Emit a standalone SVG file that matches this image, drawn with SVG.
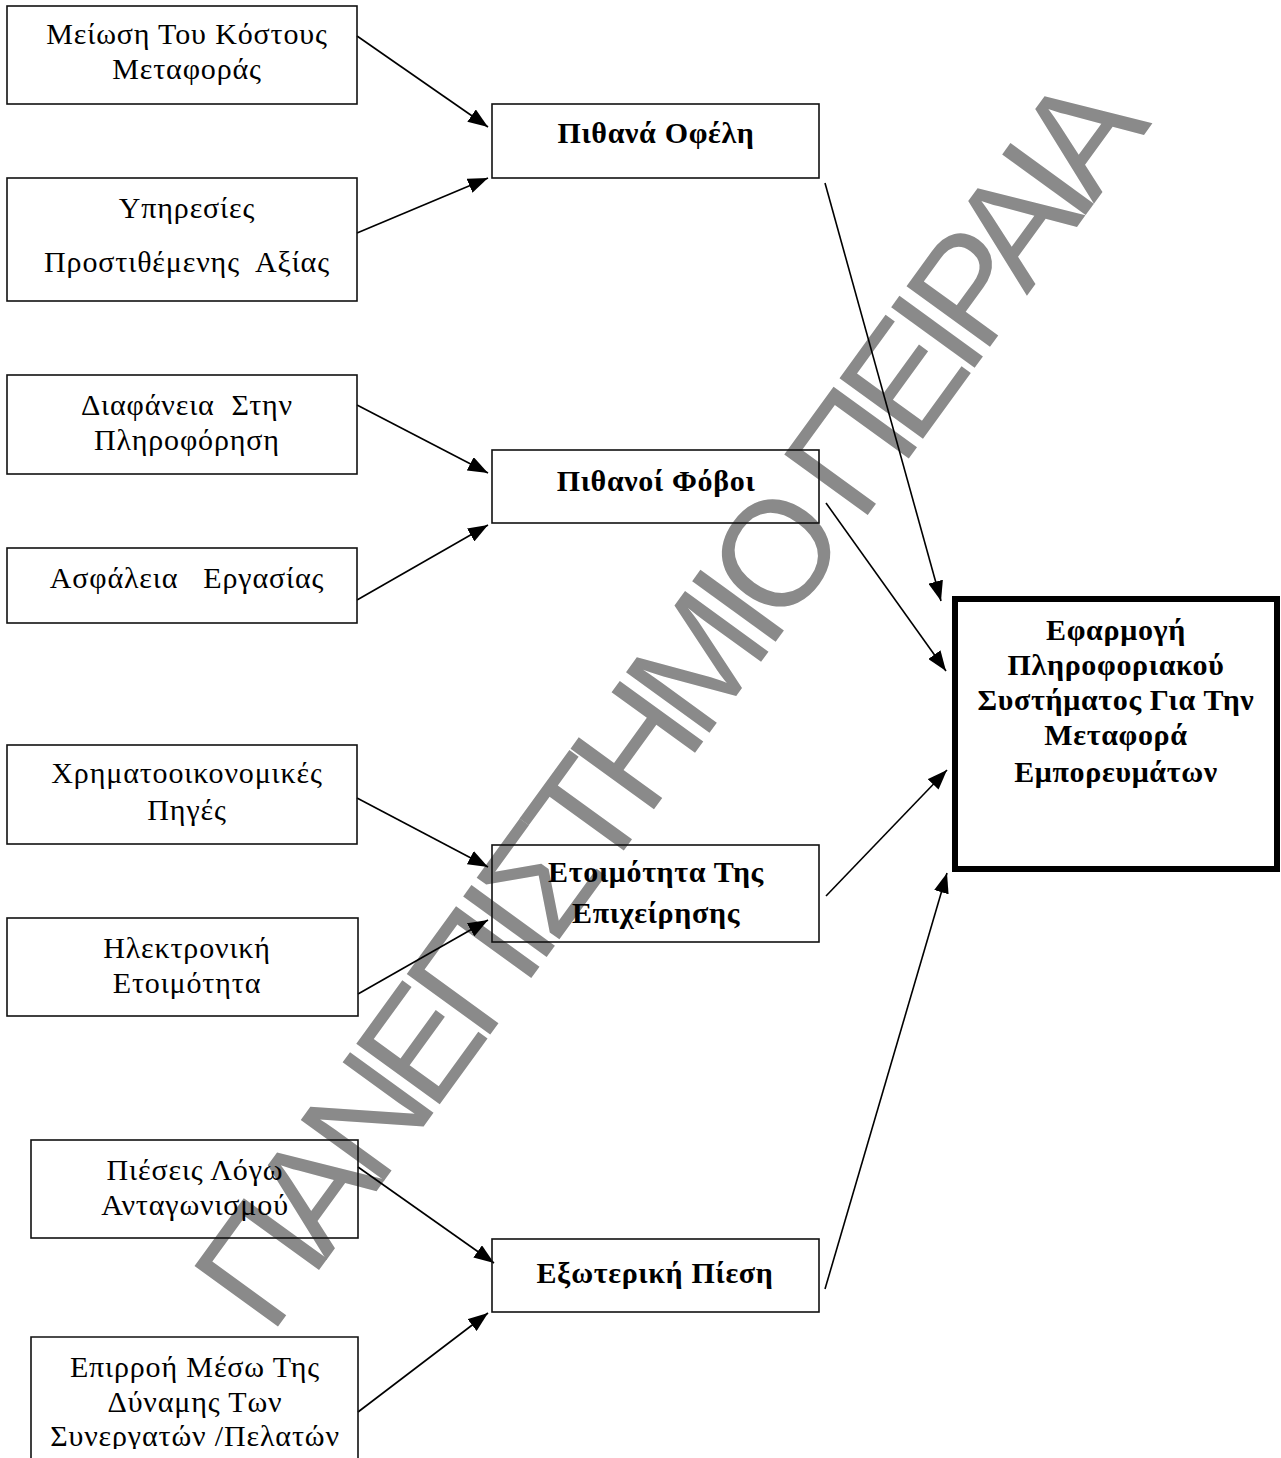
<svg xmlns="http://www.w3.org/2000/svg" width="1281" height="1458" viewBox="0 0 1281 1458">
  <style>
    .box { fill: none; stroke: #111; stroke-width: 1.6; }
    .main { fill: none; stroke: #000; stroke-width: 6; }
    .lbl { font-family: "Liberation Serif", "Times New Roman", serif; font-size: 30px; letter-spacing: 0.85px; fill: #000; text-anchor: middle; white-space: pre; }
    .hdr { font-family: "Liberation Serif", "Times New Roman", serif; font-size: 30px; letter-spacing: 0.65px; font-weight: bold; fill: #000; text-anchor: middle; white-space: pre; }
    .wire { fill: none; stroke: #000; stroke-width: 1.6; marker-end: url(#head); }
    .wm { font-family: "Liberation Sans", Arial, sans-serif; font-size: 150px; fill: #8a8a8a; text-anchor: middle; }
  </style>
  <defs>
    <marker id="head" viewBox="0 0 20 15" refX="20" refY="7.5" markerWidth="20" markerHeight="15" markerUnits="userSpaceOnUse" orient="auto">
      <path d="M0,0 L20,7.5 L0,15 Z" fill="#000"/>
    </marker>
    <clipPath id="page">
      <rect x="0" y="0" width="1281" height="1449"/>
    </clipPath>
  </defs>
  <rect x="0" y="0" width="1281" height="1458" fill="#fff"/>

  <!-- watermark -->
  <g id="watermark">
    <text class="wm" transform="translate(668,698) rotate(-54)" x="0" y="54" textLength="1500" lengthAdjust="spacing">ΠΑΝΕΠΙΣΤΗΜΙΟ ΠΕΙΡΑΙΑ</text>
  </g>

  <!-- connectors -->
  <g id="connectors">
    <line class="wire" x1="357" y1="36" x2="488" y2="127"/>
    <line class="wire" x1="357" y1="233" x2="488" y2="178"/>
    <line class="wire" x1="357" y1="405" x2="488" y2="473"/>
    <line class="wire" x1="357" y1="600" x2="488" y2="525"/>
    <line class="wire" x1="357" y1="798" x2="488" y2="867"/>
    <line class="wire" x1="358" y1="994" x2="488" y2="920"/>
    <line class="wire" x1="358" y1="1167" x2="494" y2="1263"/>
    <line class="wire" x1="358" y1="1412" x2="488" y2="1313"/>
    <line class="wire" x1="825" y1="183" x2="941" y2="601"/>
    <line class="wire" x1="826" y1="503" x2="946" y2="671"/>
    <line class="wire" x1="826" y1="896" x2="947" y2="770"/>
    <line class="wire" x1="825" y1="1289" x2="947" y2="873"/>
  </g>

  <!-- left column -->
  <g id="n-cost">
    <rect class="box" x="7" y="6" width="350" height="98"/>
    <text class="lbl" x="187" y="44">Μείωση Του Κόστους</text>
    <text class="lbl" x="187" y="79">Μεταφοράς</text>
  </g>
  <g id="n-services">
    <rect class="box" x="7" y="178" width="350" height="123"/>
    <text class="lbl" x="187" y="218">Υπηρεσίες</text>
    <text class="lbl" x="187" y="272">Προστιθέμενης  Αξίας</text>
  </g>
  <g id="n-transparency">
    <rect class="box" x="7" y="375" width="350" height="99"/>
    <text class="lbl" x="187" y="415">Διαφάνεια  Στην</text>
    <text class="lbl" x="187" y="450">Πληροφόρηση</text>
  </g>
  <g id="n-security">
    <rect class="box" x="7" y="548" width="350" height="75"/>
    <text class="lbl" x="187" y="588">Ασφάλεια   Εργασίας</text>
  </g>
  <g id="n-finance">
    <rect class="box" x="7" y="745" width="350" height="99"/>
    <text class="lbl" x="187" y="783">Χρηματοοικονομικές</text>
    <text class="lbl" x="187" y="820">Πηγές</text>
  </g>
  <g id="n-ereadiness">
    <rect class="box" x="7" y="918" width="351" height="98"/>
    <text class="lbl" x="187" y="958">Ηλεκτρονική</text>
    <text class="lbl" x="187" y="993">Ετοιμότητα</text>
  </g>
  <g id="n-competition">
    <rect class="box" x="31" y="1140" width="327" height="98"/>
    <text class="lbl" x="195" y="1180">Πιέσεις Λόγω</text>
    <text class="lbl" x="195" y="1215">Ανταγωνισμού</text>
  </g>
  <g id="n-partners">
    <path class="box" d="M31,1459 V1337 H358 V1459"/>
    <g clip-path="url(#page)">
      <text class="lbl" x="195" y="1377">Επιρροή Μέσω Της</text>
      <text class="lbl" x="195" y="1412">Δύναμης Των</text>
      <text class="lbl" x="195" y="1446">Συνεργατών /Πελατών</text>
    </g>
  </g>

  <!-- middle column -->
  <g id="n-benefits">
    <rect class="box" x="492" y="104" width="327" height="74"/>
    <text class="hdr" x="656" y="143">Πιθανά Οφέλη</text>
  </g>
  <g id="n-fears">
    <rect class="box" x="492" y="450" width="327" height="73"/>
    <text class="hdr" x="656" y="491">Πιθανοί Φόβοι</text>
  </g>
  <g id="n-readiness">
    <rect class="box" x="492" y="845" width="327" height="97"/>
    <text class="hdr" x="656" y="882">Ετοιμότητα Της</text>
    <text class="hdr" x="656" y="923">Επιχείρησης</text>
  </g>
  <g id="n-pressure">
    <rect class="box" x="492" y="1239" width="327" height="73"/>
    <text class="hdr" x="655" y="1283">Εξωτερική Πίεση</text>
  </g>

  <!-- outcome -->
  <g id="n-outcome">
    <rect class="main" x="955" y="599" width="322" height="270"/>
    <text class="hdr" x="1116" y="640">Εφαρμογή</text>
    <text class="hdr" x="1116" y="675">Πληροφοριακού</text>
    <text class="hdr" x="1116" y="710">Συστήματος Για Την</text>
    <text class="hdr" x="1116" y="745">Μεταφορά</text>
    <text class="hdr" x="1116" y="782">Εμπορευμάτων</text>
  </g>
</svg>
